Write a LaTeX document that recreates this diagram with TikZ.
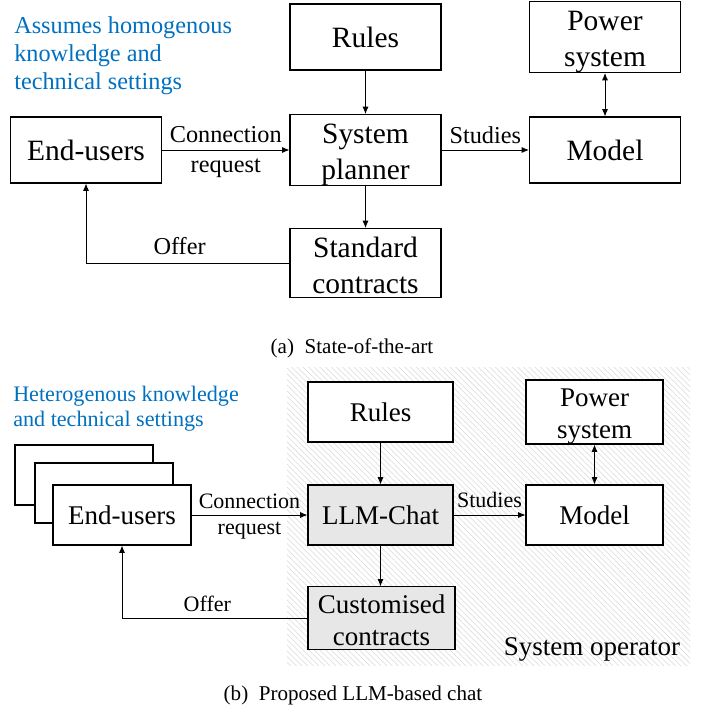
\documentclass[tikz,border=0pt]{standalone}
\usepackage{fontspec}
\setmainfont{LiberationSerif}[Extension=.ttf, UprightFont=*-Regular, BoldFont=*-Bold, ItalicFont=*-Italic]
\usetikzlibrary{arrows.meta,patterns.meta}

\definecolor{noteblue}{RGB}{0,112,192}
\definecolor{chatgray}{RGB}{231,231,231}

% line strut for two-line boxes
\newcommand{\lnstrut}{\rule[-0.15em]{0pt}{1.12em}}

\tikzset{
  topbox/.style={draw, line width=0.8pt, fill=white, inner sep=0pt, align=center,
    minimum width=113.25pt, minimum height=49.5pt, font=\fontsize{22.1}{27}\selectfont},
  botbox/.style={draw, line width=0.8pt, fill=white, inner sep=0pt, align=center,
    minimum height=45pt, font=\fontsize{20.25}{24}\selectfont},
  arr/.style={line width=0.6pt, -{Latex[length=5.5pt,width=4.5pt]}},
  toplabel/.style={font=\fontsize{18.2}{21}\selectfont, inner sep=0pt},
  botlabel/.style={font=\fontsize{16.5}{19}\selectfont, inner sep=0pt},
  caption/.style={font=\fontsize{15.8}{19}\selectfont}
}

\begin{document}
\begin{tikzpicture}[x=0.75pt,y=0.75pt,yscale=-1,xscale=1]
\useasboundingbox (0,0) rectangle (707,709);

%% (a) State-of-the-art
\node [anchor=west, align=left, text=noteblue, inner sep=0pt, font=\fontsize{18.2}{21}\selectfont] (note1) at (14,56) {Assumes homogenous\\knowledge and\\technical settings};

\node [topbox] (rules1) at (365.5,37) {Rules};
\node [topbox] (power1) at (605,37) {Power\lnstrut\\system\lnstrut};
\node [topbox] (users1) at (86,150) {End-users};
\node [topbox] (planner1) at (365.5,150) {System\lnstrut\\planner\lnstrut};
\node [topbox] (model1) at (605,150) {Model};
\node [topbox] (contracts1) at (365.5,263) {Standard\lnstrut\\contracts\lnstrut};

\draw [arr] (rules1) -- (planner1);
\draw [arr] (planner1) -- (contracts1);
\draw [arr] (users1) -- (planner1) node [midway, above=5.5pt, toplabel] {Connection} node [midway, below=6pt, toplabel] {request};
\draw [arr] (planner1) -- (model1) node [midway, above=4.5pt, toplabel] {Studies};
\draw [arr, {Latex[length=5.5pt,width=4.5pt]}-{Latex[length=5.5pt,width=4.5pt]}] (power1) -- (model1);
\draw [arr] (contracts1.west) -| (users1.south) node [pos=0.27, above=6pt, toplabel] {Offer};

\node [caption] (capa) at (352,348) {(a)\enspace State-of-the-art};

%% (b) Proposed LLM-based chat
\fill [pattern={Lines[angle=-45,distance=3pt,line width=0.4pt]}, pattern color=black!15] (287,367) rectangle (690,665);

\node [anchor=west, align=left, text=noteblue, inner sep=0pt, font=\fontsize{16.6}{18.75}\selectfont] (note2) at (13,408.5) {Heterogenous knowledge\\and technical settings};

\node [botbox, minimum width=108.75pt] (rules2) at (380.5,412) {Rules};
\node [botbox, minimum width=102.75pt] (power2) at (594.5,412) {Power\lnstrut\\system\lnstrut};
\node [botbox, minimum width=103.5pt] (users2c) at (84,475) {};
\node [botbox, minimum width=103.5pt] (users2b) at (104,493) {};
\node [botbox, minimum width=103.5pt] (users2) at (122,515) {End-users};
\node [botbox, minimum width=108.75pt, fill=chatgray] (chat2) at (380.5,515) {LLM-Chat};
\node [botbox, minimum width=102.75pt] (model2) at (594.5,515) {Model};
\node [botbox, minimum width=110.25pt, fill=chatgray] (contracts2) at (381.5,618) {Customised\lnstrut\\contracts\lnstrut};

\draw [arr] (rules2) -- (chat2);
\draw [arr] (chat2) -- (contracts2.north -| chat2);
\draw [arr] (users2) -- (chat2) node [midway, above=4.75pt, botlabel] {Connection} node [midway, below=4.75pt, botlabel] {request};
\draw [arr] (chat2) -- (model2) node [midway, above=5.5pt, botlabel] {Studies};
\draw [arr, {Latex[length=5.5pt,width=4.5pt]}-{Latex[length=5.5pt,width=4.5pt]}] (power2) -- (model2);
\draw [arr] (contracts2.west) -| (users2.south) node [pos=0.27, above=4.75pt, botlabel] {Offer};

\node [font=\fontsize{20.25}{24}\selectfont] (operator2) at (592,649) {System operator};

\node [caption] (capb) at (353,695) {(b)\enspace Proposed LLM-based chat};

\end{tikzpicture}
\end{document}
